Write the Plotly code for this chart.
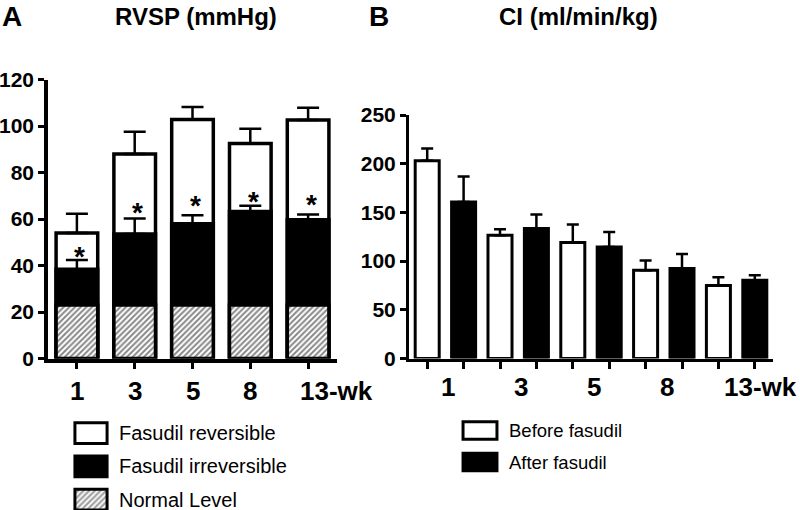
import plotly.graph_objects as go

# ---------------- data ----------------
weeks = ["1", "3", "5", "8", "13-wk"]
normal_level = [23, 23, 23, 23, 23]
irreversible = [38.4, 53.6, 58.0, 63.2, 59.7]
irreversible_err = [4.0, 6.6, 3.6, 2.5, 2.2]
total_rvsp = [54.0, 88.0, 102.8, 92.5, 102.6]
total_err = [8.3, 9.5, 5.4, 6.3, 5.3]
star_y = [45.8, 64.5, 67.5, 69.4, 67.9]

ci_before = [203, 126.6, 119, 90.7, 75]
ci_before_err = [12.6, 6.1, 18.6, 9.9, 8.5]
ci_after = [160.8, 133.5, 114.6, 92.4, 80.4]
ci_after_err = [26.1, 14.3, 15.4, 15.0, 5.1]

legend_a = ["Fasudil reversible", "Fasudil irreversible", "Normal Level"]
legend_b = ["Before fasudil", "After fasudil"]

FONT = "Liberation Sans"
W, H = 800, 510


def px(xp):
    return xp / W


def py(yp):
    return 1 - yp / H


fig = go.Figure()

# ---------------- panel A ----------------
xa = list(range(len(weeks)))
err_style = dict(type="data", symmetric=False, color="black", thickness=2.5, width=11)
hatch = dict(shape="/", fgcolor="#111", bgcolor="white", size=4, solidity=0.5)

fig.add_trace(go.Bar(
    x=xa, y=total_rvsp, width=0.72, xaxis="x", yaxis="y",
    marker=dict(color="white", line=dict(color="black", width=3.5)),
    error_y=dict(array=total_err, arrayminus=[0] * len(weeks), **err_style),
))
fig.add_trace(go.Bar(
    x=xa, y=irreversible, width=0.72, xaxis="x", yaxis="y",
    marker=dict(color="black", line=dict(color="black", width=3.5)),
    error_y=dict(array=irreversible_err, arrayminus=[0] * len(weeks), **err_style),
))
fig.add_trace(go.Bar(
    x=xa, y=normal_level, width=0.72, xaxis="x", yaxis="y",
    marker=dict(color="white", pattern=hatch, line=dict(color="black", width=3.5)),
))

# ---------------- panel B ----------------
xb_before = [2 * i for i in range(len(weeks))]
xb_after = [2 * i + 1 for i in range(len(weeks))]
err_b = dict(type="data", symmetric=False, color="black", thickness=2.5, width=6)
fig.add_trace(go.Bar(
    x=xb_before, y=ci_before, width=0.66, xaxis="x2", yaxis="y2",
    marker=dict(color="white", line=dict(color="black", width=3)),
    error_y=dict(array=ci_before_err, arrayminus=[0] * len(weeks), **err_b),
))
fig.add_trace(go.Bar(
    x=xb_after, y=ci_after, width=0.66, xaxis="x2", yaxis="y2",
    marker=dict(color="black", line=dict(color="black", width=3)),
    error_y=dict(array=ci_after_err, arrayminus=[0] * len(weeks), **err_b),
))

# ---------------- legend swatches ----------------
fig.add_trace(go.Bar(
    x=[1] * len(legend_a), y=list(range(len(legend_a))), orientation="h", width=0.62,
    xaxis="x3", yaxis="y3",
    marker=dict(color=["white", "black", "white"],
                pattern=dict(shape=["", "", "/"], fgcolor="#111", bgcolor="white", size=4, solidity=0.55),
                line=dict(color="black", width=3)),
))
fig.add_trace(go.Bar(
    x=[1] * len(legend_b), y=list(range(len(legend_b))), orientation="h", width=0.56,
    xaxis="x4", yaxis="y4",
    marker=dict(color=["white", "black"], line=dict(color="black", width=3)),
))

axis_common = dict(showgrid=False, zeroline=False, showline=True, linecolor="black",
                   ticks="outside", tickcolor="black", automargin=False)
tickfont = dict(family=FONT, size=21, color="black", weight="bold")
hidden = dict(visible=False, automargin=False)

fig.update_layout(
    width=W, height=H, margin=dict(l=0, r=0, t=0, b=0, autoexpand=False),
    paper_bgcolor="white", plot_bgcolor="white",
    barmode="overlay", showlegend=False, hovermode=False,
    xaxis=dict(domain=[px(48), px(337)], range=[-0.5, 4.5], tickvals=xa, showticklabels=False,
               linewidth=3.5, ticklen=7, tickwidth=3, anchor="y", **axis_common),
    yaxis=dict(domain=[py(358.5), py(79.5)], range=[0, 120], dtick=20, tickfont=tickfont,
               linewidth=3.5, ticklen=6, tickwidth=3, anchor="x", **axis_common),
    xaxis2=dict(domain=[px(409), px(773)], range=[-0.5, 9.5], tickvals=list(range(10)),
                showticklabels=False, linewidth=3, ticklen=7, tickwidth=3, anchor="y2", **axis_common),
    yaxis2=dict(domain=[py(358.5), py(115)], range=[0, 250], dtick=50, tickfont=tickfont,
                linewidth=3, ticklen=6, tickwidth=3, anchor="x2", **axis_common),
    xaxis3=dict(domain=[px(73), px(109)], range=[-0.06, 1.06], anchor="y3", **hidden),
    yaxis3=dict(domain=[0, py(416.4)], range=[2.31, -0.5], anchor="x3", **hidden),
    xaxis4=dict(domain=[px(461), px(499)], range=[-0.06, 1.06], anchor="y4", **hidden),
    yaxis4=dict(domain=[py(477.75), py(414.75)], range=[1.5, -0.5], anchor="x4", **hidden),
)

ann = []


def bold(s):
    return dict(family=FONT, size=s, color="black", weight="bold")


# titles
ann.append(dict(x=0, y=py(16), xref="paper", yref="paper", text="A", showarrow=False,
                xanchor="left", yanchor="middle", font=bold(28)))
ann.append(dict(x=px(196), y=py(16), xref="paper", yref="paper", text="RVSP (mmHg)", showarrow=False,
                xanchor="center", yanchor="middle", font=bold(24)))
ann.append(dict(x=px(367), y=py(16), xref="paper", yref="paper", text="B", showarrow=False,
                xanchor="left", yanchor="middle", font=bold(28)))
ann.append(dict(x=px(578), y=py(16), xref="paper", yref="paper", text="CI (ml/min/kg)", showarrow=False,
                xanchor="center", yanchor="middle", font=bold(24)))

# x labels panel A
for i, w in enumerate(weeks):
    last = i == len(weeks) - 1
    ann.append(dict(x=xa[i], y=py(391), xref="x", yref="paper", text=w, showarrow=False,
                    xanchor="left" if last else "center", xshift=-10 if last else 0,
                    yanchor="middle", font=bold(26)))
# x labels panel B
for i, w in enumerate(weeks):
    last = i == len(weeks) - 1
    ann.append(dict(x=xb_before[i] + 0.5, y=py(387), xref="x2", yref="paper", text=w, showarrow=False,
                    xanchor="left" if last else "center", xshift=-15 if last else 3,
                    yanchor="middle", font=bold(26)))

# asterisks
for i in range(len(weeks)):
    ann.append(dict(x=xa[i], y=star_y[i], xref="x", yref="y", text="*", showarrow=False,
                    xanchor="center", yanchor="middle", xshift=3, yshift=-4, font=bold(28)))

# legend texts
for i, t in enumerate(legend_a):
    ann.append(dict(x=px(117), y=py(433 + 33.3 * i), xref="paper", yref="paper", text=t,
                    showarrow=False, xanchor="left", yanchor="middle",
                    font=dict(family=FONT, size=20, color="black")))
for i, t in enumerate(legend_b):
    ann.append(dict(x=px(507), y=py(430.5 + 31.5 * i), xref="paper", yref="paper", text=t,
                    showarrow=False, xanchor="left", yanchor="middle",
                    font=dict(family=FONT, size=18.5, color="black")))

fig.update_layout(annotations=ann)
fig.write_html("out.html", config={"displayModeBar": False},
               post_script="document.body.style.margin='0px';")
